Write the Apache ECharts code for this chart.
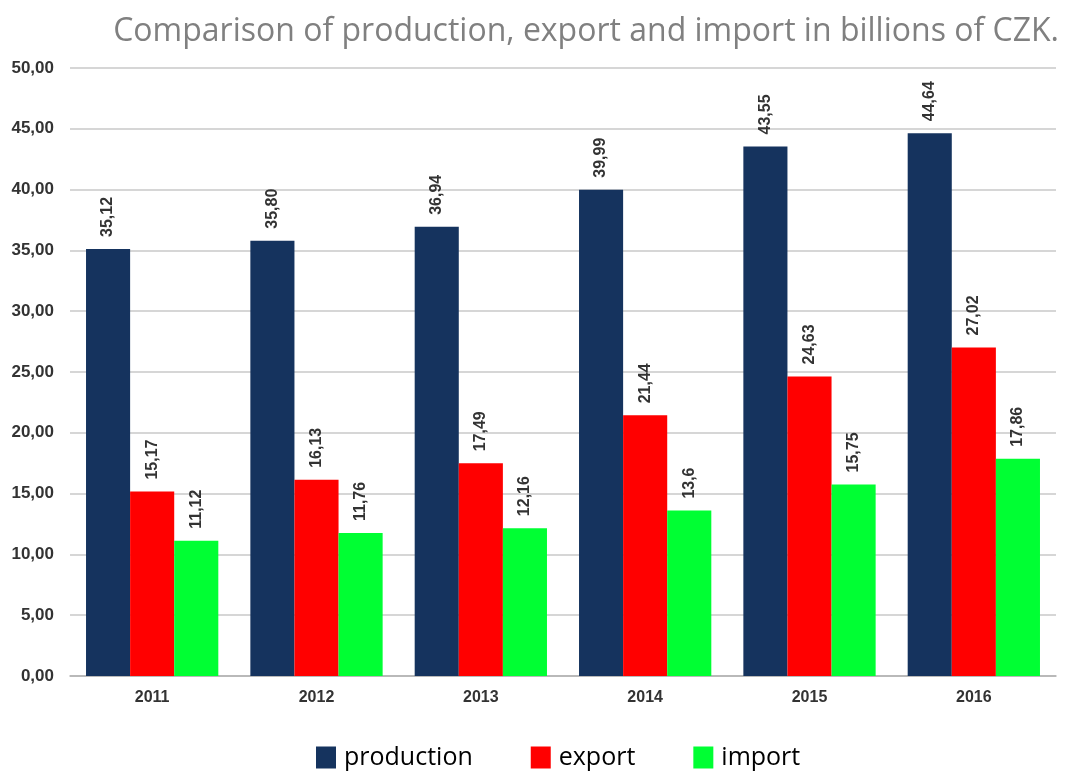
<!DOCTYPE html>
<html><head><meta charset="utf-8">
<script src="https://cdn.jsdelivr.net/npm/echarts@6/dist/echarts.min.js"></script>
<style>html,body{margin:0;padding:0;background:#fff}#c{width:1069px;height:772px}</style>
</head><body><div id="c"></div>
<script>
const categories = ['2011','2012','2013','2014','2015','2016'];
const production = [35.12, 35.80, 36.94, 39.99, 43.55, 44.64];
const exportVals = [15.17, 16.13, 17.49, 21.44, 24.63, 27.02];
const importVals = [11.12, 11.76, 12.16, 13.6, 15.75, 17.86];
const productionLabels = ['35,12','35,80','36,94','39,99','43,55','44,64'];
const exportLabels = ['15,17','16,13','17,49','21,44','24,63','27,02'];
const importLabels = ['11,12','11,76','12,16','13,6','15,75','17,86'];

const chart = echarts.init(document.getElementById('c'), null, {renderer:'canvas'});
function lbl(texts){
  return {show:true, position:'top', rotate:90, align:'left', verticalAlign:'middle', distance:12,
    fontFamily:'Liberation Sans', fontWeight:'bold', fontSize:16, color:'#333',
    formatter: p => texts[p.dataIndex]};
}
chart.setOption({
  animation:false,
  title:{text:'Comparison of production, export and import in billions of CZK.', right:5, top:11,
    textStyle:{fontFamily:'Open Sans', fontWeight:'normal', fontSize:32, color:'#808080'}},
  legend:{top:740, left:311, itemWidth:20, itemHeight:22, itemGap:58, icon:'rect',
    textStyle:{fontFamily:'Open Sans', fontSize:25, color:'#000', padding:[0,0,0,3]},
    data:['production','export','import']},
  grid:{left:70, right:13, top:68, bottom:96},
  xAxis:{type:'category', data:categories,
    axisLine:{lineStyle:{color:'#b0b0b0', width:1.5}}, axisTick:{show:false},
    axisLabel:{fontFamily:'Liberation Sans', fontWeight:'bold', fontSize:16, color:'#333', margin:14}},
  yAxis:{type:'value', min:0, max:50, interval:5,
    axisLine:{show:false}, axisTick:{show:false},
    splitLine:{lineStyle:{color:'#c8c8c8', width:1.5}},
    axisLabel:{fontFamily:'Liberation Sans', fontWeight:'bold', fontSize:17, color:'#333', margin:16,
      formatter: v => v.toFixed(2).replace('.', ',')}},
  series:[
    {name:'production', type:'bar', data:production, barGap:'0%', barCategoryGap:'19.5%',
      itemStyle:{color:'#15335e'}, label:lbl(productionLabels)},
    {name:'export', type:'bar', data:exportVals, itemStyle:{color:'#ff0000'}, label:lbl(exportLabels)},
    {name:'import', type:'bar', data:importVals, itemStyle:{color:'#00ff33'}, label:lbl(importLabels)}
  ]
});
</script></body></html>
